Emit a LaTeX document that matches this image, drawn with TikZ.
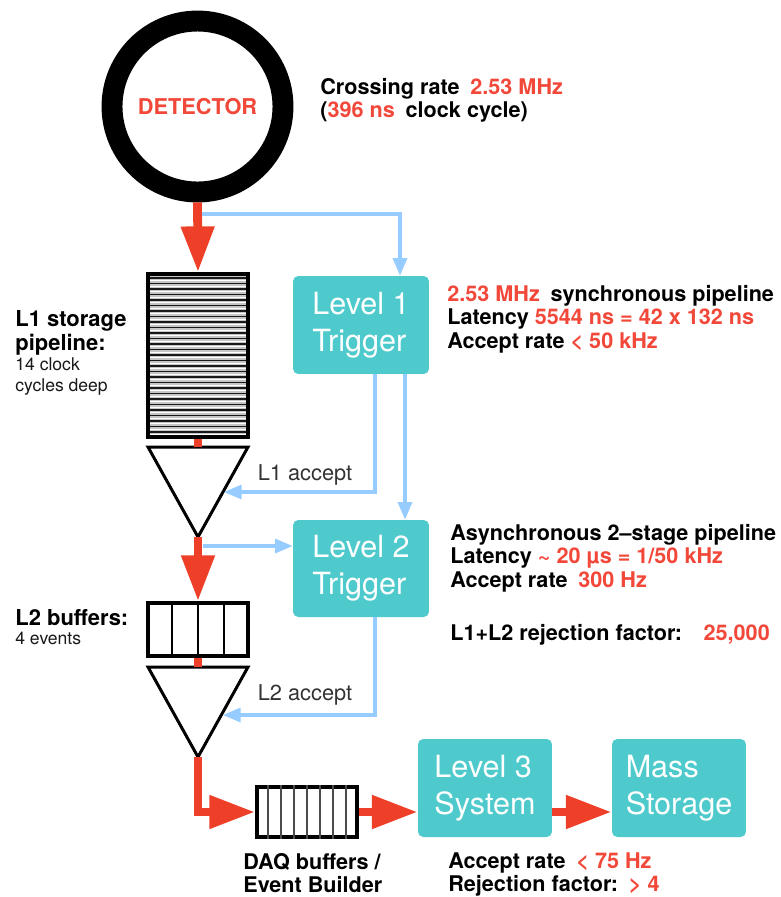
\documentclass[tikz,border=0pt]{standalone}
\usepackage{fontspec}
\setmainfont{TeX Gyre Heros}
\usetikzlibrary{arrows.meta,calc}
\definecolor{arrowred}{RGB}{238,64,40}
\definecolor{txtred}{RGB}{242,72,58}
\definecolor{trigteal}{RGB}{78,202,204}
\definecolor{linkblue}{RGB}{150,204,255}
\tikzset{
  redflow/.style={draw=arrowred, line width=5pt, -{Triangle[width=18pt,length=26pt]}},
  redlink/.style={draw=arrowred, line width=5pt},
  blueflow/.style={draw=linkblue, line width=1.8pt, -{Triangle[width=8pt,length=10pt]}},
  trigbox/.style={fill=trigteal, rounded corners=3pt, minimum width=2.72cm, minimum height=1.96cm,
    text=white, align=left, inner sep=0pt, font=\fontsize{17.4}{21}\selectfont},
  bufbox/.style={draw, line width=2.2pt, inner sep=0pt, minimum width=2cm},
  funnel/.style={draw, line width=1.7pt, line join=miter},
  note/.style={align=left, anchor=north west, inner sep=0pt, font=\fontsize{12.3}{13.3}\selectfont\bfseries},
  subnote/.style={align=left, anchor=north west, inner sep=0pt, text=black!90, font=\fontsize{10}{12}\selectfont},
  acclabel/.style={inner sep=0pt, text=black!80, font=\fontsize{12.4}{14}\selectfont}
}
\newcommand{\hot}[1]{\textcolor{txtred}{#1}}
\begin{document}
\begin{tikzpicture}[x=0.02cm, y=-0.02cm]
\useasboundingbox (0,0) rectangle (781,897);

% detector
\node[circle, draw, line width=11.9pt, minimum size=3.42cm, inner sep=0pt, text=txtred,
  font=\fontsize{12.4}{14}\selectfont\bfseries] (det) at (197.5,106.5) {DETECTOR};
\node[note] (crossing) at (320,78) {Crossing rate\enspace\hot{2.53 MHz}\\(\hot{396 ns}\enspace clock cycle)};

% L1 storage pipeline
\fill[gray!45] (148,274) rectangle (248,437);
\foreach \k in {0,...,28} {
  \draw[black!90, line width=0.8pt] (150,{278+5.5*\k}) -- (246,{278+5.5*\k});
  \draw[white, line width=0.7pt] (150,{280.7+5.5*\k}) -- (246,{280.7+5.5*\k});
}
\node[bufbox, minimum height=3.26cm] (pipe) at (198,355.5) {};
\node[note, font=\fontsize{12.5}{13.6}\selectfont\bfseries] (storlab) at (15,310) {L1 storage\\pipeline:};
\node[subnote] (storsub) at ([yshift=-1pt]storlab.south west) {14 clock\\cycles deep};

% funnels
\coordinate (f1top) at (198,447);
\coordinate (f1tip) at (198,537);
\draw[funnel] (148,447) -- (248,447) -- (f1tip) -- cycle;
\coordinate (f2top) at (198,667);
\coordinate (f2tip) at (198,757);
\draw[funnel] (148,667) -- (248,667) -- (f2tip) -- cycle;
\coordinate (acc1) at (224,492);
\coordinate (acc2) at (223,715);

% L2 buffers
\node[bufbox, minimum height=1.06cm] (buf2) at (198,629.5) {};
\foreach \c in {1,2,3}
  \draw[line width=0.7pt] ($(buf2.south west)!\c/4!(buf2.south east)$) -- ($(buf2.north west)!\c/4!(buf2.north east)$);
\node[note, font=\fontsize{12.5}{13.6}\selectfont\bfseries] (buf2lab) at (15,609) {L2 buffers:};
\node[subnote] (buf2sub) at ([yshift=-3pt]buf2lab.south west) {4 events};

% DAQ buffers
\node[bufbox, minimum height=1cm] (daq) at (307,812) {};
\foreach \c in {1,...,7}
  \draw[line width=0.7pt, black!70] ($(daq.south west)!\c/8!(daq.south east)$) -- ($(daq.north west)!\c/8!(daq.north east)$);
\node[note] (daqnote) at (243,853) {DAQ buffers /\\Event Builder};

% trigger levels
\node[trigbox] (trig1) at (361,325) {Level 1\\Trigger};
\node[trigbox, minimum height=1.94cm] (trig2) at (361,568.5) {Level 2\\Trigger};
\node[trigbox, minimum width=2.68cm] (l3) at (485,788) {Level 3\\System};
\node[trigbox, minimum width=2.68cm] (mass) at (679,788) {Mass\\Storage};

\node[note] (l1note) at (447,285) {\hot{2.53 MHz}\enspace synchronous pipeline\\Latency \hot{5544 ns = 42 x 132 ns}\\Accept rate \hot{< 50 kHz}};
\node[note] (l2note) at (450,524) {Asynchronous 2--stage pipeline\\Latency \hot{\textasciitilde\ 20 µs = 1/50 kHz}\\Accept rate\enspace\hot{300 Hz}};
\node[note] (rejnote) at (450,624) {L1+L2 rejection factor:\quad\hot{25,000}};
\node[note] (l3note) at (448,852) {Accept rate\enspace\hot{< 75 Hz}\\Rejection factor:\enspace\hot{> 4}};

% data flow
\draw[redflow] (det.south) -- (pipe.north);
\draw[redlink] (pipe.south) -- (f1top);
\draw[redflow] (f1tip) -- (buf2.north);
\draw[redlink] (buf2.south) -- (f2top);
\draw[redflow] (f2tip) |- (daq.west);
\draw[redflow] (daq.east) -- (daq.east -| l3.west);
\draw[redflow] (l3.east |- daq.east) -- (mass.west |- daq.east);

% trigger signals
\coordinate (tap1) at (202,214);
\coordinate (tap2) at (203,546);
\draw[blueflow] (tap1) -| ($(trig1.north)+(39,0)$);
\draw[blueflow] ($(trig1.south)+(14,0)$) |- (acc1);
\draw[blueflow] ($(trig1.south)+(44,0)$) -- ($(trig2.north)+(44,0)$);
\draw[blueflow] (tap2) -- (tap2 -| trig2.west);
\draw[blueflow] ($(trig2.south)+(14,0)$) |- (acc2);
\node[acclabel] (l1acc) at (305,475) {L1 accept};
\node[acclabel] (l2acc) at (305,695) {L2 accept};
\end{tikzpicture}
\end{document}
